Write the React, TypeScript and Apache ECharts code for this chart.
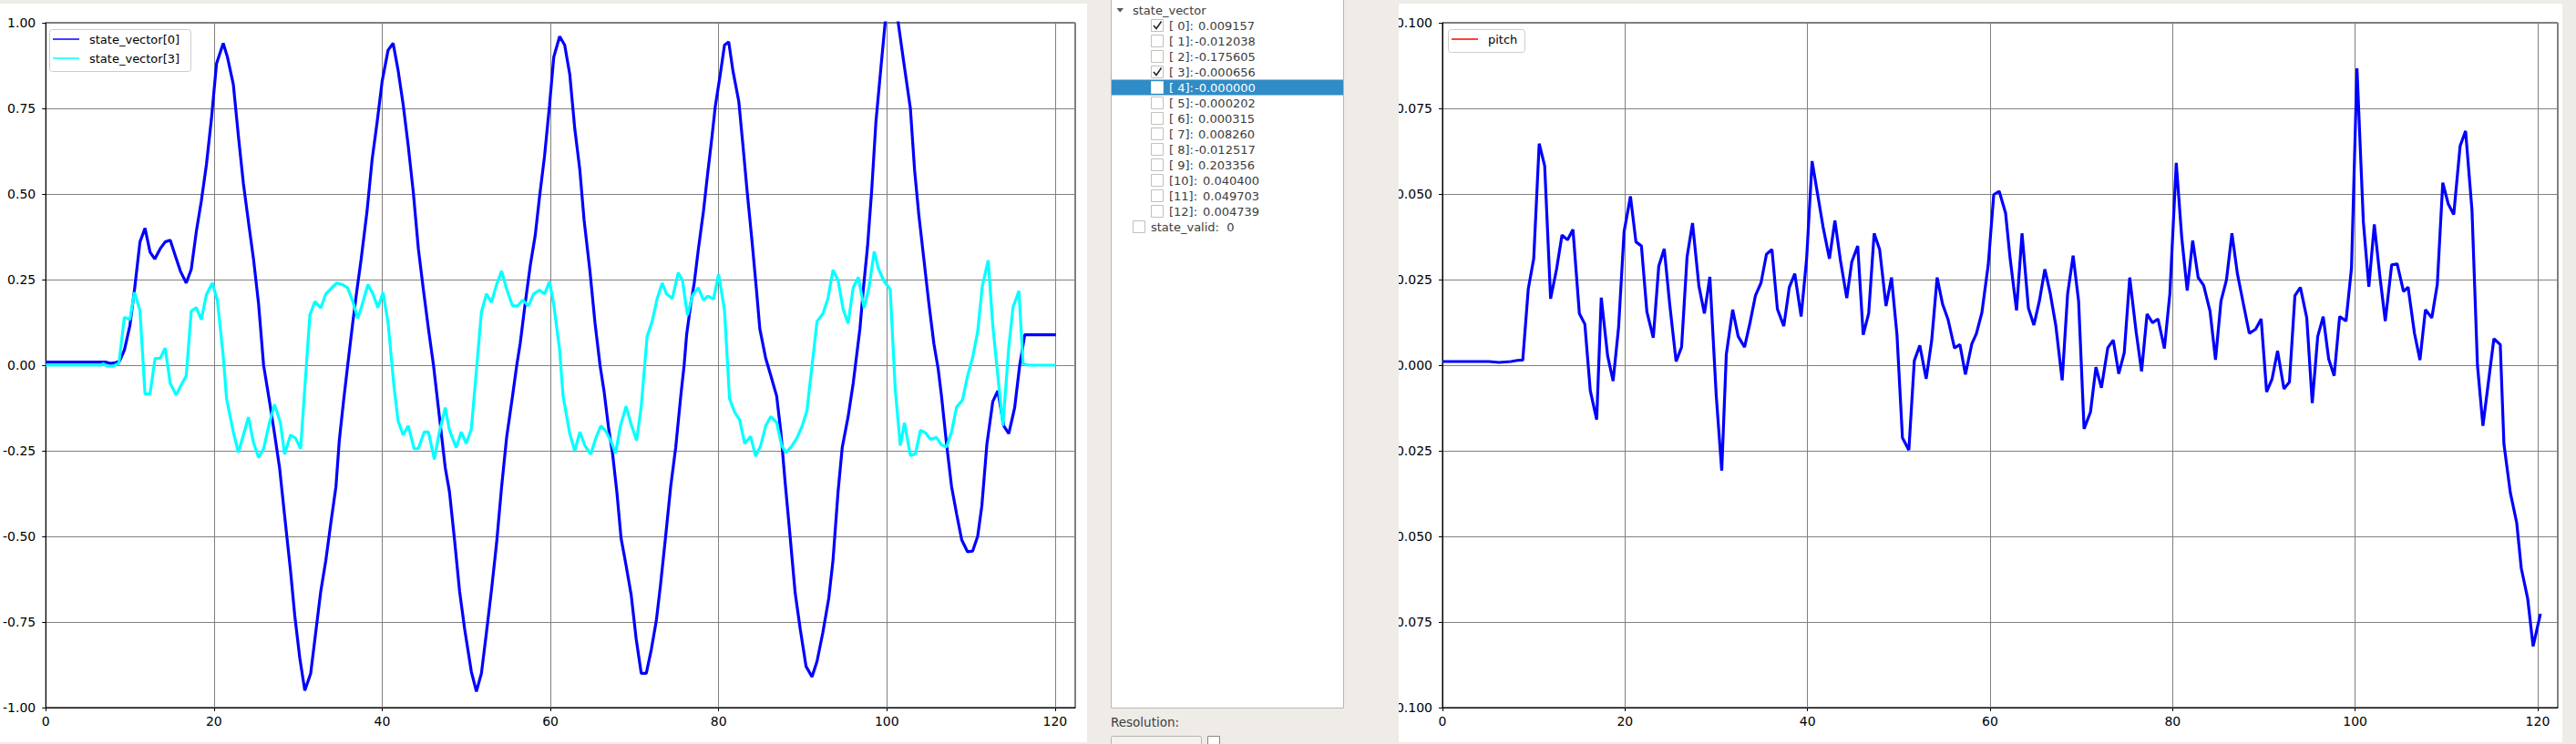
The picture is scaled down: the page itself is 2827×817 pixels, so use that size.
import React, { useEffect, useRef } from "react";
import * as echarts from "echarts";

const W = 2827;
const H = 817;

// ---------- data ----------
const stateVector0: [number, number][] = [
  [0, 0.009], [7.1, 0.009], [7.7, 0.005], [8.3, 0.007], [8.8, 0.013], [9.35, 0.044], [10.0, 0.115], [10.55, 0.22],
  [11.2, 0.36], [11.8, 0.4], [12.4, 0.33], [12.96, 0.31], [13.6, 0.34], [14.2, 0.36], [14.8, 0.365], [15.4, 0.32],
  [16.0, 0.275], [16.7, 0.24], [17.3, 0.28], [17.9, 0.39], [18.5, 0.48], [19.1, 0.585], [19.7, 0.72], [20.3, 0.88],
  [21.1, 0.94], [21.6, 0.9], [22.3, 0.82], [22.9, 0.67], [23.5, 0.53], [24.2, 0.4], [24.7, 0.31], [25.3, 0.18],
  [25.9, 0.0], [26.6, -0.106], [27.2, -0.2], [27.8, -0.3], [28.4, -0.44], [29.1, -0.6], [29.6, -0.73], [30.2, -0.855],
  [30.8, -0.95], [31.5, -0.9], [32.0, -0.8], [32.7, -0.66], [33.3, -0.57], [33.9, -0.46], [34.5, -0.355], [34.9, -0.22],
  [35.4, -0.106], [35.9, 0], [36.5, 0.124], [37.0, 0.22], [37.5, 0.31], [38.2, 0.45], [38.8, 0.6], [39.4, 0.71],
  [40.0, 0.83], [40.7, 0.92], [41.3, 0.94], [41.9, 0.86], [42.5, 0.76], [43.1, 0.64], [43.7, 0.505], [44.3, 0.34],
  [44.9, 0.22], [45.5, 0.106], [46.1, 0], [46.8, -0.15], [47.5, -0.3], [48.0, -0.37], [48.6, -0.51], [49.2, -0.66],
  [49.8, -0.77], [50.6, -0.895], [51.2, -0.953], [51.8, -0.9], [52.4, -0.78], [53.0, -0.656], [53.6, -0.52], [54.2, -0.355],
  [54.8, -0.21], [55.5, -0.09], [56.0, 0], [56.4, 0.062], [57.0, 0.18], [57.6, 0.29], [58.2, 0.38], [58.7, 0.49],
  [59.3, 0.61], [59.9, 0.76], [60.4, 0.9], [61.1, 0.96], [61.7, 0.935], [62.3, 0.85], [62.9, 0.69], [63.5, 0.57],
  [64.0, 0.425], [64.7, 0.275], [65.3, 0.124], [65.9, 0], [66.4, -0.08], [66.9, -0.18], [67.4, -0.26], [67.9, -0.37],
  [68.4, -0.505], [69.0, -0.585], [69.6, -0.67], [70.2, -0.8], [70.8, -0.9], [71.4, -0.9], [72.0, -0.83], [72.6, -0.745],
  [73.1, -0.64], [73.7, -0.5], [74.3, -0.355], [74.9, -0.24], [75.5, -0.09], [75.9, 0], [76.2, 0.09], [76.7, 0.18],
  [77.1, 0.24], [77.6, 0.34], [78.2, 0.45], [78.7, 0.56], [79.2, 0.665], [79.6, 0.755], [80.2, 0.85], [80.7, 0.935],
  [81.2, 0.944], [81.7, 0.86], [82.4, 0.77], [82.9, 0.64], [83.4, 0.505], [84.0, 0.355], [84.5, 0.22], [84.9, 0.106],
  [85.6, 0.02], [86.2, -0.03], [86.9, -0.09], [87.4, -0.195], [87.9, -0.34], [88.5, -0.5], [89.1, -0.665], [89.7, -0.77],
  [90.4, -0.88], [91.1, -0.91], [91.7, -0.865], [92.4, -0.78], [93.1, -0.68], [93.6, -0.57], [94.2, -0.37], [94.7, -0.24],
  [95.4, -0.15], [96.0, -0.053], [96.8, 0.106], [97.2, 0.22], [97.7, 0.345], [98.2, 0.51], [98.7, 0.71], [99.3, 0.87],
  [99.8, 1.0], [100.4, 1.06], [101.3, 1.01], [102.0, 0.887], [102.8, 0.75], [103.3, 0.57], [103.8, 0.44], [104.4, 0.31],
  [105.0, 0.18], [105.6, 0.062], [106.1, -0.01], [106.5, -0.09], [107.1, -0.23], [107.7, -0.355], [108.3, -0.435], [108.9, -0.51],
  [109.6, -0.545], [110.2, -0.543], [110.8, -0.5], [111.3, -0.41], [111.9, -0.23], [112.6, -0.106], [113.2, -0.075], [113.9, -0.177],
  [114.5, -0.2], [115.2, -0.124], [115.8, 0], [116.4, 0.089], [120.1, 0.089],
];

const stateVector3: [number, number][] = [
  [0, 0], [6.6, 0], [6.8, 0.004], [7.3, -0.003], [8.0, -0.003], [8.7, 0.006], [9.35, 0.14], [10.0, 0.133],
  [10.55, 0.213], [11.2, 0.16], [11.8, -0.084], [12.4, -0.084], [13.0, 0.02], [13.6, 0.02], [14.2, 0.05], [14.8, -0.053],
  [15.5, -0.087], [16.1, -0.058], [16.7, -0.031], [17.3, 0.158], [17.9, 0.168], [18.5, 0.133], [19.1, 0.206], [19.8, 0.24],
  [20.4, 0.19], [21.1, 0.027], [21.5, -0.098], [22.3, -0.195], [22.9, -0.255], [23.5, -0.204], [24.1, -0.152], [24.7, -0.226],
  [25.3, -0.27], [25.9, -0.244], [26.6, -0.168], [27.2, -0.115], [27.9, -0.168], [28.4, -0.26], [29.1, -0.204], [29.7, -0.213],
  [30.3, -0.244], [31.4, 0.146], [32.0, 0.186], [32.7, 0.167], [33.3, 0.208], [34.0, 0.226], [34.6, 0.24], [35.3, 0.235],
  [35.9, 0.226], [36.5, 0.186], [37.1, 0.137], [37.5, 0.167], [38.3, 0.235], [38.9, 0.208], [39.5, 0.168], [40.1, 0.213],
  [40.7, 0.124], [41.4, -0.062], [41.9, -0.164], [42.5, -0.204], [43.1, -0.177], [43.8, -0.244], [44.3, -0.244], [45.0, -0.195],
  [45.5, -0.195], [46.2, -0.275], [46.8, -0.195], [47.5, -0.124], [48.0, -0.19], [48.8, -0.241], [49.4, -0.195], [50.0, -0.229],
  [50.6, -0.186], [51.8, 0.155], [52.4, 0.208], [53.0, 0.184], [53.6, 0.235], [54.2, 0.275], [54.8, 0.222], [55.5, 0.173],
  [56.1, 0.173], [56.7, 0.19], [57.4, 0.173], [58.0, 0.208], [58.7, 0.219], [59.3, 0.208], [59.9, 0.244], [60.4, 0.177],
  [61.1, 0.044], [61.5, -0.089], [62.3, -0.2], [62.9, -0.25], [63.5, -0.195], [64.1, -0.235], [64.8, -0.26], [65.4, -0.213],
  [66.0, -0.177], [66.6, -0.193], [67.2, -0.222], [67.75, -0.257], [68.3, -0.18], [69.0, -0.12], [69.6, -0.173], [70.25, -0.22],
  [70.8, -0.12], [71.5, 0.084], [72.1, 0.128], [72.7, 0.195], [73.3, 0.24], [73.8, 0.208], [74.5, 0.195], [75.2, 0.27],
  [75.7, 0.248], [76.3, 0.146], [76.9, 0.204], [77.6, 0.226], [78.2, 0.19], [78.7, 0.202], [79.4, 0.193], [80.0, 0.266],
  [80.7, 0.16], [81.3, -0.098], [81.9, -0.137], [82.5, -0.16], [83.1, -0.229], [83.8, -0.208], [84.4, -0.266], [85.0, -0.235],
  [85.6, -0.177], [86.2, -0.15], [86.9, -0.167], [87.5, -0.235], [88.0, -0.255], [88.6, -0.24], [89.3, -0.213], [89.9, -0.18],
  [90.5, -0.133], [91.7, 0.128], [92.4, 0.15], [93.0, 0.195], [93.6, 0.278], [94.2, 0.248], [94.8, 0.164], [95.4, 0.122],
  [96.0, 0.226], [96.6, 0.257], [97.3, 0.167], [97.9, 0.23], [98.5, 0.332], [99.0, 0.282], [99.7, 0.244], [100.4, 0.222],
  [101.0, -0.071], [101.6, -0.235], [102.1, -0.168], [102.8, -0.264], [103.4, -0.259], [104.0, -0.19], [104.6, -0.198], [105.2, -0.217],
  [105.9, -0.211], [106.5, -0.233], [107.1, -0.239], [107.7, -0.195], [108.3, -0.122], [109.0, -0.102], [109.6, -0.031], [110.2, 0.022],
  [110.8, 0.098], [111.35, 0.23], [112.05, 0.306], [112.6, 0.115], [113.8, -0.177], [114.5, 0.053], [115.0, 0.168], [115.7, 0.217],
  [116.2, 0.004], [116.8, 0], [120.1, 0],
];

const pitch: [number, number][] = [
  [0, 0.00107], [5.1, 0.00107], [6.2, 0.0008], [7.5, 0.00107], [8.2, 0.0014], [8.8, 0.0015], [9.4, 0.0222], [10.0, 0.0311],
  [10.6, 0.0647], [11.2, 0.0582], [11.85, 0.0194], [12.5, 0.028], [13.1, 0.038], [13.7, 0.0366], [14.3, 0.0396], [15.0, 0.0151],
  [15.6, 0.012], [16.2, -0.0075], [16.9, -0.0159], [17.4, 0.0197], [18.1, 0.0027], [18.7, -0.0046], [19.3, 0.0111], [19.9, 0.039],
  [20.6, 0.0493], [21.2, 0.036], [21.8, 0.0348], [22.4, 0.0156], [23.1, 0.008], [23.7, 0.0289], [24.3, 0.034], [24.9, 0.0178],
  [25.6, 0.0011], [26.2, 0.0053], [26.8, 0.0316], [27.4, 0.0415], [28.1, 0.0231], [28.7, 0.0151], [29.3, 0.0258], [30.0, -0.009],
  [30.6, -0.0308], [31.1, 0.0031], [31.8, 0.0162], [32.4, 0.0084], [33.1, 0.0053], [33.7, 0.0124], [34.3, 0.0204], [34.9, 0.024],
  [35.5, 0.0324], [36.1, 0.0338], [36.7, 0.0164], [37.4, 0.0114], [38.0, 0.0227], [38.6, 0.0267], [39.3, 0.0142], [39.9, 0.0311],
  [40.5, 0.0596], [41.2, 0.0484], [41.7, 0.0404], [42.4, 0.0311], [43.0, 0.0422], [43.6, 0.0307], [44.3, 0.0196], [44.85, 0.0302],
  [45.5, 0.0348], [46.1, 0.0089], [46.7, 0.0151], [47.3, 0.0385], [47.9, 0.0338], [48.6, 0.0173], [49.2, 0.0256], [49.8, 0.0089],
  [50.4, -0.0212], [51.1, -0.0248], [51.7, 0.0013], [52.3, 0.0058], [53.0, -0.004], [53.6, 0.0071], [54.2, 0.0256], [54.8, 0.0178],
  [55.4, 0.0133], [56.1, 0.005], [56.7, 0.006], [57.3, -0.0027], [58.0, 0.0062], [58.5, 0.0092], [59.1, 0.0153], [59.8, 0.0293],
  [60.4, 0.0498], [61.0, 0.0508], [61.7, 0.0444], [62.2, 0.0311], [62.9, 0.016], [63.5, 0.0385], [64.2, 0.0167], [64.8, 0.0117],
  [65.4, 0.0187], [66.0, 0.028], [66.6, 0.0209], [67.2, 0.0116], [67.9, -0.0044], [68.5, 0.0209], [69.1, 0.032], [69.7, 0.0187],
  [70.3, -0.0186], [71.0, -0.0137], [71.6, -0.0006], [72.2, -0.0066], [72.9, 0.0051], [73.5, 0.0073], [74.1, -0.0025], [74.7, 0.0036],
  [75.3, 0.0256], [76.0, 0.0098], [76.6, -0.0018], [77.2, 0.0149], [77.8, 0.0124], [78.4, 0.0135], [79.1, 0.0049], [79.7, 0.0209],
  [80.4, 0.0591], [81.0, 0.0373], [81.6, 0.0218], [82.2, 0.0364], [82.8, 0.0256], [83.4, 0.0233], [84.1, 0.0158], [84.7, 0.0016],
  [85.3, 0.0187], [85.9, 0.0249], [86.5, 0.0385], [87.1, 0.0267], [87.8, 0.0173], [88.4, 0.0093], [89.1, 0.0105], [89.7, 0.0135],
  [90.3, -0.0078], [90.9, -0.004], [91.5, 0.0042], [92.2, -0.0069], [92.8, -0.0049], [93.4, 0.0203], [94.0, 0.0227], [94.7, 0.0138],
  [95.3, -0.0111], [95.9, 0.0084], [96.5, 0.0142], [97.1, 0.0018], [97.7, -0.0031], [98.3, 0.0142], [99.0, 0.0129], [99.6, 0.0284],
  [100.2, 0.0867], [100.9, 0.0418], [101.5, 0.0229], [102.1, 0.0411], [102.7, 0.0262], [103.3, 0.0129], [104.0, 0.0293], [104.6, 0.0296],
  [105.3, 0.0215], [105.8, 0.0228], [106.5, 0.0093], [107.1, 0.0015], [107.7, 0.0162], [108.4, 0.0138], [109.0, 0.0236], [109.6, 0.0533],
  [110.2, 0.0471], [110.8, 0.044], [111.5, 0.064], [112.1, 0.0684], [112.8, 0.0453], [113.4, 0.0], [114.0, -0.0177], [115.2, 0.0077],
  [115.9, 0.006], [116.3, -0.023], [117.0, -0.0372], [117.7, -0.046], [118.2, -0.0593], [118.9, -0.0681], [119.5, -0.0821], [120.3, -0.0726],
];

const leftSeriesNames = ["state_vector[0]", "state_vector[3]"];
const rightSeriesNames = ["pitch"];

const treeRoot = "state_vector";
const treeLabels = ["[ 0]:", "[ 1]:", "[ 2]:", "[ 3]:", "[ 4]:", "[ 5]:", "[ 6]:", "[ 7]:", "[ 8]:", "[ 9]:", "[10]:", "[11]:", "[12]:"];
const treeValues = ["0.009157", "-0.012038", "-0.175605", "-0.000656", "-0.000000", "-0.000202", "0.000315", "0.008260", "-0.012517", "0.203356", "0.040400", "0.049703", "0.004739"];
const treeChecked = [true, false, false, true, false, false, false, false, false, false, false, false, false];
const treeSelected = 4;
const validLabel = "state_valid:  0";
const resolutionLabel = "Resolution:";

// ---------- styling ----------
const FONT = '"DejaVu Sans", sans-serif';
const GRAY_BG = "#efebe7";
const GRID_COLOR = "#808080";
const TEXT_DARK = "#3c3c3c";
const LINE_W = 3.2;

function axisCommon() {
  return {
    axisLine: { show: true, onZero: false, lineStyle: { color: "#000", width: 1 } },
    axisTick: { show: true, inside: false, length: 4, lineStyle: { color: "#000", width: 1 } },
    splitLine: { show: true, lineStyle: { color: GRID_COLOR, width: 1 } },
  };
}

function xAxisDef(gridIndex: number, max: number) {
  return {
    type: "value",
    gridIndex,
    min: 0,
    max,
    interval: 20,
    ...axisCommon(),
    axisLabel: {
      color: "#000",
      fontFamily: FONT,
      fontSize: 14,
      margin: 8,
      showMaxLabel: false,
      formatter: (v: number) => (Math.abs(v % 20) < 1e-9 ? String(Math.round(v)) : ""),
    },
  };
}

function yAxisDef(gridIndex: number, min: number, max: number, interval: number, decimals: number) {
  return {
    type: "value",
    gridIndex,
    min,
    max,
    interval,
    ...axisCommon(),
    axisLabel: {
      color: "#000",
      fontFamily: FONT,
      fontSize: 14,
      margin: 11,
      formatter: (v: number) => {
        const s = v.toFixed(decimals);
        return /^-0\.0+$/.test(s) ? s.slice(1) : s;
      },
    },
  };
}

function txt(x: number, y: number, text: string, fill: string, align = "left", z = 110, size = 13) {
  return {
    type: "text",
    x,
    y,
    z,
    style: {
      text,
      fill,
      font: `${size}px ${FONT}`,
      align,
      textAlign: align,
      verticalAlign: "middle",
      textVerticalAlign: "middle",
    },
  };
}

function legendGraphics(x: number, y: number, w: number, h: number, items: { name: string; color: string }[]) {
  const els: any[] = [
    {
      type: "rect",
      z: 20,
      shape: { x: x + 0.5, y: y + 0.5, width: w, height: h, r: 3 },
      style: { fill: "rgba(255,255,255,0.85)", stroke: "#cccccc", lineWidth: 1 },
    },
  ];
  items.forEach((it, i) => {
    const cy = y + 11 + i * 21;
    els.push({
      type: "line",
      z: 21,
      shape: { x1: x + 4, y1: cy, x2: x + 33, y2: cy },
      style: { stroke: it.color, lineWidth: 1.5 },
    });
    els.push(txt(x + 44, cy, it.name, "#000", "left", 21, 13));
  });
  return els;
}

function treeGraphics() {
  const els: any[] = [];
  // gray gap covering the spill of the right chart's tick labels
  els.push({ type: "rect", z: 100, shape: { x: 1193, y: 0, width: 342, height: H }, style: { fill: GRAY_BG } });
  // tree panel
  els.push({
    type: "rect",
    z: 101,
    shape: { x: 1219.5, y: -2, width: 255, height: 779.5 },
    style: { fill: "#fff", stroke: "#b9b5b0", lineWidth: 1 },
  });
  const rowH = 17;
  const firstY = 11;
  // selected row highlight
  const selY = firstY + (treeSelected + 1) * rowH;
  els.push({
    type: "rect",
    z: 102,
    shape: { x: 1220, y: selY - 8.5, width: 254, height: 17 },
    style: { fill: "#308cc6" },
  });
  // root expander triangle + label
  els.push({
    type: "polygon",
    z: 103,
    shape: { points: [[1225.5, 9], [1233, 9], [1229.25, 13.5]] },
    style: { fill: "#555" },
  });
  els.push(txt(1243, firstY, treeRoot, TEXT_DARK, "left", 103));
  treeLabels.forEach((lab, i) => {
    const cy = firstY + (i + 1) * rowH;
    const sel = i === treeSelected;
    els.push({
      type: "rect",
      z: 103,
      shape: { x: 1263.5, y: cy - 6.5, width: 13, height: 13 },
      style: { fill: "#fff", stroke: sel ? "#e8e8e8" : "#c4c0bc", lineWidth: 1 },
    });
    if (treeChecked[i]) {
      els.push({
        type: "polyline",
        z: 104,
        shape: { points: [[1266, cy], [1269, cy + 3.5], [1274.5, cy - 4.5]] },
        style: { stroke: "#222", lineWidth: 1.6, fill: null },
      });
    }
    const color = sel ? "#fff" : TEXT_DARK;
    els.push(txt(1283, cy, lab, color, "left", 104));
    const v = treeValues[i];
    const vx = i >= 10 ? 1320 : v.startsWith("-") ? 1311 : 1315;
    els.push(txt(vx, cy, v, color, "left", 104));
  });
  const validY = firstY + (treeLabels.length + 1) * rowH;
  els.push({
    type: "rect",
    z: 103,
    shape: { x: 1243.5, y: validY - 6.5, width: 13, height: 13 },
    style: { fill: "#fff", stroke: "#c4c0bc", lineWidth: 1 },
  });
  els.push(txt(1263, validY, validLabel, TEXT_DARK, "left", 104));
  // bottom controls
  els.push(txt(1219, 793, resolutionLabel, TEXT_DARK, "left", 103, 13.5));
  els.push({
    type: "rect",
    z: 103,
    shape: { x: 1219.5, y: 808.5, width: 99, height: 20, r: 2 },
    style: { fill: "#f4f2f0", stroke: "#b9b5b0", lineWidth: 1 },
  });
  els.push({
    type: "rect",
    z: 103,
    shape: { x: 1325.5, y: 808.5, width: 13, height: 13 },
    style: { fill: "#fff", stroke: "#8a8682", lineWidth: 1 },
  });
  return els;
}

export default function App() {
  const ref = useRef<HTMLDivElement>(null);

  useEffect(() => {
    document.body.style.margin = "0";
    if (!ref.current) return;
    const chart = echarts.init(ref.current, undefined, { renderer: "svg", width: W, height: H });

    const gridBase = { show: true, borderColor: "#000", borderWidth: 1, backgroundColor: "transparent" };

    const option: any = {
      animation: false,
      backgroundColor: "transparent",
      grid: [
        { ...gridBase, left: 46, top: 25, width: 1134, height: 752 },
        { ...gridBase, left: 1583, top: 25, width: 1224, height: 752 },
      ],
      xAxis: [xAxisDef(0, 122.4), xAxisDef(1, 122.2)],
      yAxis: [yAxisDef(0, -1, 1, 0.25, 2), yAxisDef(1, -0.1, 0.1, 0.025, 3)],
      series: [
        {
          type: "line",
          name: leftSeriesNames[0],
          xAxisIndex: 0,
          yAxisIndex: 0,
          data: stateVector0,
          showSymbol: false,
          symbol: "none",
          clip: true,
          z: 3,
          lineStyle: { color: "#0000ff", width: LINE_W },
          itemStyle: { color: "#0000ff" },
        },
        {
          type: "line",
          name: leftSeriesNames[1],
          xAxisIndex: 0,
          yAxisIndex: 0,
          data: stateVector3,
          showSymbol: false,
          symbol: "none",
          clip: true,
          z: 4,
          lineStyle: { color: "#00ffff", width: LINE_W },
          itemStyle: { color: "#00ffff" },
        },
        {
          type: "line",
          name: rightSeriesNames[0],
          xAxisIndex: 1,
          yAxisIndex: 1,
          data: pitch,
          showSymbol: false,
          symbol: "none",
          clip: true,
          z: 3,
          lineStyle: { color: "#0000ff", width: LINE_W },
          itemStyle: { color: "#ff0000" },
        },
      ],
      graphic: {
        elements: [
          ...legendGraphics(54, 32, 155, 46, [
            { name: leftSeriesNames[0], color: "#0000ff" },
            { name: leftSeriesNames[1], color: "#00ffff" },
          ]),
          ...legendGraphics(1589, 32, 84, 25, [{ name: rightSeriesNames[0], color: "#ff0000" }]),
          ...treeGraphics(),
        ],
      },
    };

    chart.setOption(option);
    return () => chart.dispose();
  }, []);

  return (
    <div style={{ position: "relative", width: W, height: H, background: GRAY_BG, overflow: "hidden" }}>
      <div style={{ position: "absolute", left: 0, top: 4, width: 1193, height: 811, background: "#fff" }} />
      <div style={{ position: "absolute", left: 1535, top: 4, width: 1277, height: 811, background: "#fff" }} />
      <div ref={ref} style={{ position: "absolute", left: 0, top: 0, width: W, height: H }} />
    </div>
  );
}
